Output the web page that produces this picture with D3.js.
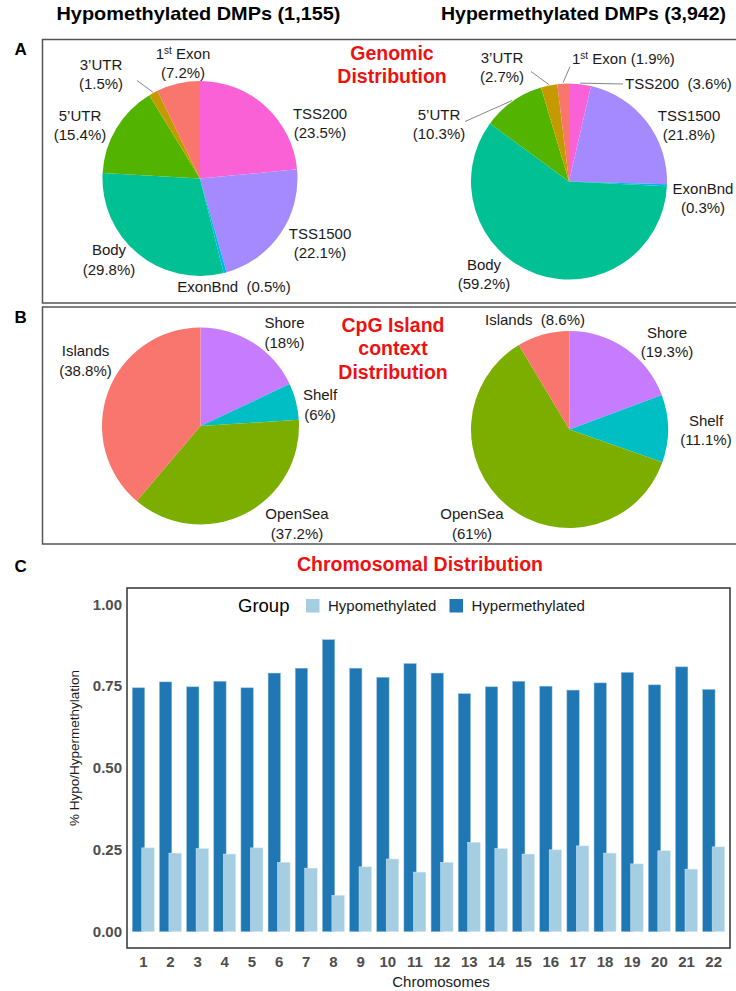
<!DOCTYPE html>
<html>
<head>
<meta charset="utf-8">
<script src="https://cdn.jsdelivr.net/npm/d3@7"></script>
<style>
  body { margin: 0; background: #fff; }
  svg { display: block; }
  text { font-family: "Liberation Sans", Arial, Helvetica, sans-serif; }
</style>
</head>
<body>
<svg id="fig" width="736" height="991"></svg>
<script>
// ---- Data -------------------------------------------------------------
// Genomic feature annotation of DMPs (percent of each group)
const genomicFeatures = ["1st Exon", "3’UTR", "5’UTR", "Body", "ExonBnd", "TSS1500", "TSS200"];
const genomicHypo  = [7.2, 1.5, 15.4, 29.8, 0.5, 22.1, 23.5];
const genomicHyper = [1.9, 2.7, 10.3, 59.2, 0.3, 21.8, 3.6];
const genomicColors = ["#F8766D", "#C49A00", "#53B400", "#00C094", "#00B6EB", "#A58AFF", "#FB61D7"];

// CpG island context (percent of each group)
const cpgContexts = ["Islands", "OpenSea", "Shelf", "Shore"];
const cpgHypo  = [38.8, 37.2, 6, 18];
const cpgHyper = [8.6, 61, 11.1, 19.3];
const cpgColors = ["#F8766D", "#7CAE00", "#00BFC4", "#C77CFF"];

// Share of hypo / hyper DMPs per chromosome
const chromosomes = ["1","2","3","4","5","6","7","8","9","10","11","12","13","14","15","16","17","18","19","20","21","22"];
const hyperShare = [0.745, 0.763, 0.748, 0.765, 0.745, 0.790, 0.805, 0.892, 0.805, 0.777, 0.819,
                    0.790, 0.727, 0.748, 0.765, 0.750, 0.738, 0.760, 0.792, 0.754, 0.809, 0.740];
const hypoShare  = [0.256, 0.240, 0.254, 0.237, 0.256, 0.212, 0.194, 0.111, 0.198, 0.222, 0.182,
                    0.212, 0.273, 0.254, 0.237, 0.250, 0.262, 0.240, 0.207, 0.247, 0.191, 0.259];
const yTicks = [0, 0.25, 0.5, 0.75, 1];
const groups = ["Hypomethylated", "Hypermethylated"];
const groupColors = ["#A6CEE3", "#1F78B4"];

// ---- Layout -------------------------------------------------------------
const svg = d3.select("#fig");
const FONT = 15;
const LINE = 19.5;

// label placement relative to each pie centre
const layoutGenomicHypo = {
  "TSS200":   {dx: 120, dy: -60},
  "TSS1500":  {dx: 120, dy: 60},
  "ExonBnd":  {dx: 34, dy: 113, inline: "  "},
  "Body":     {dx: -91, dy: 76.5},
  "5’UTR":    {dx: -120, dy: -58},
  "3’UTR":    {dx: -99, dy: -109, leader: [-63, -98]},
  "1st Exon": {dx: -17, dy: -120}
};
const layoutGenomicHyper = {
  "TSS200":   {dx: 56, dy: -93, inline: "  ", anchor: "start", leader: [54, -97.5]},
  "TSS1500":  {dx: 120, dy: -61},
  "ExonBnd":  {dx: 134, dy: 12},
  "Body":     {dx: -85, dy: 88},
  "5’UTR":    {dx: -130, dy: -62, leader: [-104, -60]},
  "3’UTR":    {dx: -67, dy: -119, leader: [-38, -110]},
  "1st Exon": {dx: 3, dy: -118, inline: " ", anchor: "start", leader: [1, -115]}
};
const layoutCpgHypo = {
  "Shore":   {dx: 84, dy: -98},
  "Shelf":   {dx: 119.5, dy: -26},
  "OpenSea": {dx: 96.5, dy: 93},
  "Islands": {dx: -115, dy: -70}
};
const layoutCpgHyper = {
  "Islands": {dx: -34.5, dy: -105, inline: "  "},
  "Shore":   {dx: 97.5, dy: -92},
  "Shelf":   {dx: 136.5, dy: -4},
  "OpenSea": {dx: -97.5, dy: 89.5}
};

// ---- Headers and panel frames ------------------------------------------
function header(x, text, width) {
  svg.append("text").attr("x", x).attr("y", 20)
    .attr("font-size", 19).attr("font-weight", "bold").attr("fill", "#000")
    .attr("textLength", width).attr("lengthAdjust", "spacingAndGlyphs")
    .text(text);
}
header(56.5, "Hypomethylated DMPs (1,155)", 284);
header(441, "Hypermethylated DMPs (3,942)", 285);

function panelFrame(y0, y1) {
  svg.append("rect").attr("x", 42.5).attr("y", y0).attr("width", 720).attr("height", y1 - y0)
    .attr("fill", "none").attr("stroke", "#555").attr("stroke-width", 1.5);
}
panelFrame(39.5, 303);
panelFrame(307, 544);

function panelLetter(letter, y) {
  svg.append("text").attr("x", 14.5).attr("y", y).attr("font-size", 17)
    .attr("font-weight", "bold").attr("fill", "#000").text(letter);
}
panelLetter("A", 54.5);
panelLetter("B", 322.5);
panelLetter("C", 572);

function redTitle(lines, cx, y0, step) {
  const t = svg.append("text").attr("text-anchor", "middle").attr("font-size", 19.5)
    .attr("font-weight", "bold").attr("fill", "#EE1111");
  lines.forEach((s, i) => t.append("tspan").attr("x", cx).attr("y", y0 + i * step).text(s));
}
redTitle(["Genomic", "Distribution"], 392, 60, 23.3);
redTitle(["CpG Island", "context", "Distribution"], 393, 331.5, 23.6);
redTitle(["Chromosomal Distribution"], 420, 571, 0);

// ---- Pies ----------------------------------------------------------------
function writeName(sel, name) {
  if (name.startsWith("1st")) {
    sel.append("tspan").text("1");
    sel.append("tspan").attr("font-size", 10).attr("dy", -5).text("st");
    sel.append("tspan").attr("dy", 5).text(name.slice(3));
  } else {
    sel.append("tspan").text(name);
  }
}

function drawPie(cx, cy, r, cats, values, colors, layout) {
  const g = svg.append("g").attr("transform", `translate(${cx},${cy})`);
  const rows = cats.map((c, i) => ({cat: c, v: values[i], color: colors[i]})).reverse();
  const arcs = d3.pie().sort(null).value(d => d.v)(rows);
  const arc = d3.arc().innerRadius(0).outerRadius(r);
  const rim = d3.arc().innerRadius(r + 1).outerRadius(r + 1);

  g.selectAll("path.slice").data(arcs).join("path")
    .attr("class", "slice").attr("d", arc).attr("fill", d => d.data.color);

  arcs.forEach(a => {
    const L = layout[a.data.cat];
    const pct = `(${a.data.v}%)`;
    if (L.leader) {
      const [sx, sy] = rim.centroid(a);
      g.append("line").attr("x1", sx).attr("y1", sy)
        .attr("x2", L.leader[0]).attr("y2", L.leader[1])
        .attr("stroke", "#666").attr("stroke-width", 0.8);
    }
    const t = g.append("text").attr("font-size", FONT).attr("fill", "#1a1a1a")
      .attr("text-anchor", L.anchor || "middle")
      .style("white-space", "pre");
    if (L.inline) {
      const line = t.append("tspan").attr("x", L.dx).attr("y", L.dy);
      writeName(line, a.data.cat);
      line.append("tspan").text(L.inline + pct);
    } else {
      const first = t.append("tspan").attr("x", L.dx).attr("y", L.dy);
      writeName(first, a.data.cat);
      t.append("tspan").attr("x", L.dx).attr("y", L.dy + LINE).text(pct);
    }
  });
}

drawPie(200, 178.5, 97.5, genomicFeatures, genomicHypo, genomicColors, layoutGenomicHypo);
drawPie(569, 181.5, 98, genomicFeatures, genomicHyper, genomicColors, layoutGenomicHyper);
drawPie(200.5, 426, 98.5, cpgContexts, cpgHypo, cpgColors, layoutCpgHypo);
drawPie(569.5, 429.5, 98.5, cpgContexts, cpgHyper, cpgColors, layoutCpgHyper);

// ---- Chromosome bar chart -------------------------------------------------
const plot = {l: 127, r: 730, t: 588, b: 948};
const x = d3.scaleBand().domain(chromosomes).range([plot.l, plot.r])
  .paddingInner(0.19).paddingOuter(0.195);
const y = d3.scaleLinear().domain([-0.05, 1.05]).range([plot.b, plot.t]);

const bars = svg.append("g");
const bw = x.bandwidth();
bars.selectAll("rect.hyper").data(chromosomes).join("rect")
  .attr("class", "hyper")
  .attr("x", c => x(c)).attr("width", bw * 0.56)
  .attr("y", (c, i) => y(hyperShare[i])).attr("height", (c, i) => y(0) - y(hyperShare[i]))
  .attr("fill", groupColors[1]).attr("stroke", "#8fbcdc").attr("stroke-width", 0.5);
bars.selectAll("rect.hypo").data(chromosomes).join("rect")
  .attr("class", "hypo")
  .attr("x", c => x(c) + bw * 0.43).attr("width", bw * 0.57)
  .attr("y", (c, i) => y(hypoShare[i])).attr("height", (c, i) => y(0) - y(hypoShare[i]))
  .attr("fill", groupColors[0]).attr("stroke", "#d6e9f3").attr("stroke-width", 0.5);

svg.append("rect").attr("x", plot.l).attr("y", plot.t)
  .attr("width", plot.r - plot.l).attr("height", plot.b - plot.t)
  .attr("fill", "none").attr("stroke", "#333").attr("stroke-width", 1.5);

const yAxis = svg.append("g").attr("transform", `translate(${plot.l},0)`)
  .call(d3.axisLeft(y).tickValues(yTicks).tickFormat(d3.format(".2f")).tickSize(0).tickPadding(5));
const xAxis = svg.append("g").attr("transform", `translate(0,${plot.b})`)
  .call(d3.axisBottom(x).tickSize(0).tickPadding(8));
[yAxis, xAxis].forEach(ax => {
  ax.select(".domain").remove();
  ax.selectAll("text").attr("font-size", 15).attr("font-weight", "bold")
    .attr("fill", "#4D4D4D").attr("font-family", "\"Liberation Sans\", Arial, sans-serif");
});

svg.append("text").attr("x", 441).attr("y", 987).attr("text-anchor", "middle")
  .attr("font-size", 15).attr("fill", "#1a1a1a").text("Chromosomes");
svg.append("text").attr("transform", `translate(79,748) rotate(-90)`)
  .attr("text-anchor", "middle").attr("font-size", 13.5).attr("fill", "#1a1a1a")
  .text("% Hypo/Hypermethylation");

// legend
const legend = svg.append("g");
legend.append("text").attr("x", 238).attr("y", 611.5).attr("font-size", 18.5)
  .attr("fill", "#000").text("Group");
const keyX = [306, 449.5];
groups.forEach((gname, i) => {
  legend.append("rect").attr("x", keyX[i]).attr("y", 599).attr("width", 13.5).attr("height", 13.5)
    .attr("fill", groupColors[i]);
  legend.append("text").attr("x", keyX[i] + 22).attr("y", 611).attr("font-size", 15)
    .attr("fill", "#1a1a1a").text(gname);
});
</script>
</body>
</html>
